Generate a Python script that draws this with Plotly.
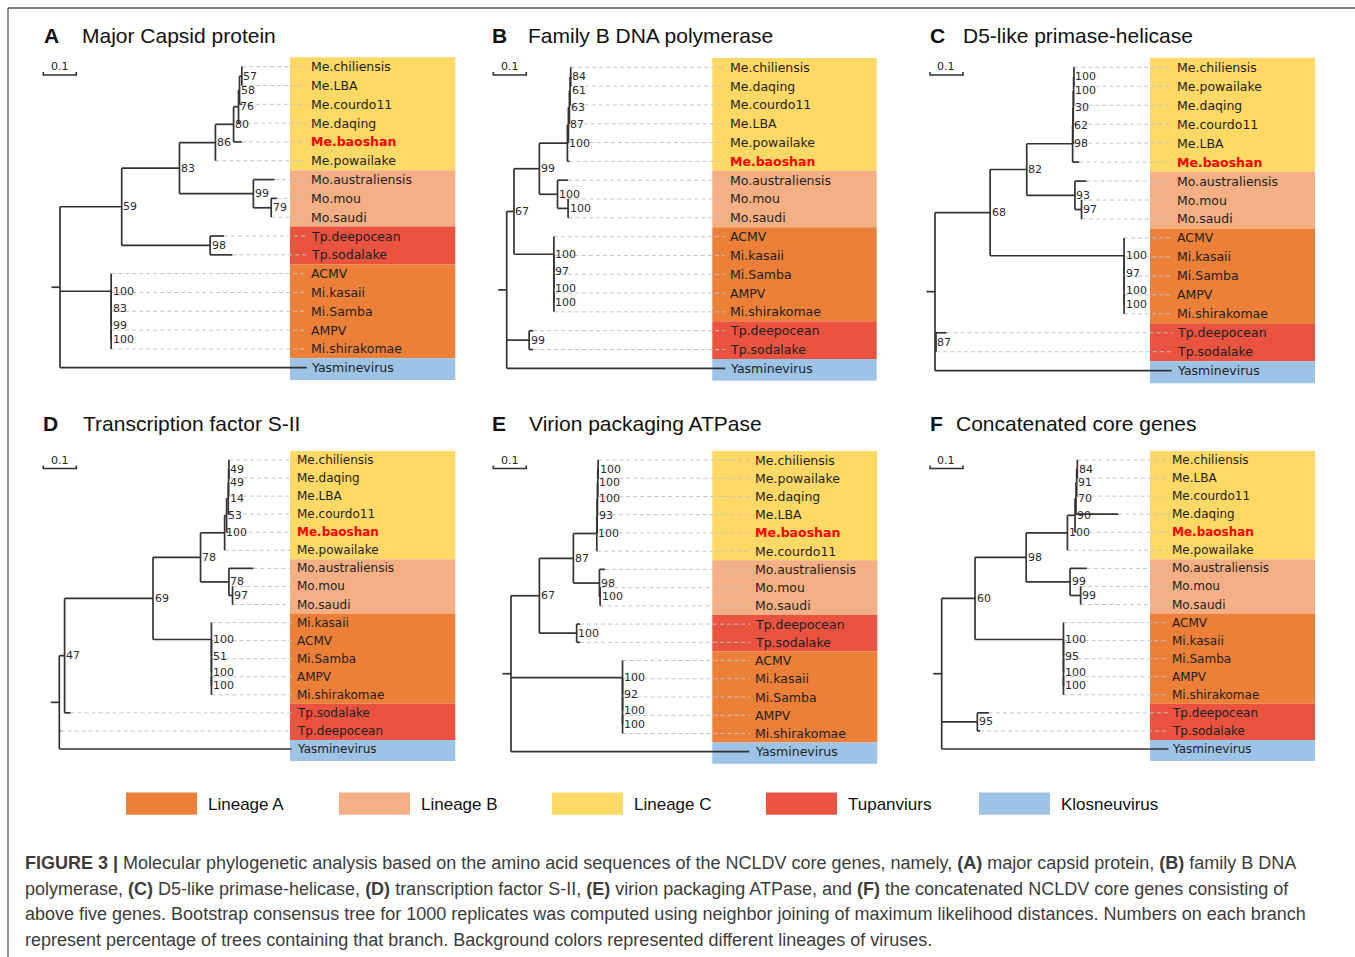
import plotly.graph_objects as go

FIG_W, FIG_H = 1355, 957
UNIT_PX = 330.0          # pixels per substitution/site (scale bar 0.1 = 33 px)

# ---------------------------------------------------------------- data
GROUP_NAMES = ["Lineage A", "Lineage B", "Lineage C", "Tupanviurs", "Klosneuvirus"]
GROUP_COLORS = ["#ED8039", "#F4B084", "#FFD966", "#E9533F", "#9DC3E6"]

LINEAGE_A = ["ACMV", "AMPV", "Mi.kasaii", "Mi.Samba", "Mi.shirakomae"]
LINEAGE_B = ["Mo.australiensis", "Mo.mou", "Mo.saudi"]
LINEAGE_C = ["Me.chiliensis", "Me.LBA", "Me.courdo11", "Me.daqing", "Me.baoshan", "Me.powailake"]
TUPANVIRUS = ["Tp.deepocean", "Tp.sodalake"]
KLOSNEUVIRUS = ["Yasminevirus"]
HIGHLIGHT = "Me.baoshan"

PANEL_KEYS = ["A", "B", "C", "D", "E", "F"]
PANEL_TITLES = ["Major Capsid protein", "Family B DNA polymerase", "D5-like primase-helicase",
                "Transcription factor S-II", "Virion packaging ATPase", "Concatenated core genes"]
SCALE_BAR = 0.1

# Newick trees: bootstrap support as internal labels, branch lengths
TREE_A = ("((((((((Me.chiliensis:0.001,Me.LBA:0.001)57:0.007,Me.courdo11:0.007)58:0.003,"
          "Me.daqing:0.005)76:0.015,Me.baoshan:0.025)80:0.055,Me.powailake:0)86:0.109,"
          "(Mo.australiensis:0.064,(Mo.mou:0.017,Mo.saudi:0)79:0.054)99:0.224)83:0.175,"
          "(Tp.deepocean:0.042,Tp.sodalake:0.067)98:0.268)59:0.187,"
          "(ACMV:0,(Mi.kasaii:0,(Mi.Samba:0,(AMPV:0,Mi.shirakomae:0)100:0)99:0)83:0)100:0.155,"
          "Yasminevirus:0.748);")
TREE_B = ("((((((((Me.chiliensis:0.001,Me.daqing:0.001)84:0.002,Me.courdo11:0.002)61:0.002,"
          "Me.LBA:0.001)63:0.003,Me.powailake:0.001)87:0.003,Me.baoshan:0.006)100:0.085,"
          "(Mo.australiensis:0.032,(Mo.mou:0.001,Mo.saudi:0.001)100:0.032)100:0.055)99:0.077,"
          "(ACMV:0,(Mi.kasaii:0,(Mi.Samba:0,(AMPV:0,Mi.shirakomae:0)100:0)100:0)97:0)100:0.121)67:0.022,"
          "(Tp.deepocean:0.012,Tp.sodalake:0.012)99:0.068,Yasminevirus:0.662);")
TREE_C = ("((((((((Me.chiliensis:0.001,Me.powailake:0.001)100:0.001,Me.daqing:0.002)100:0.001,"
          "Me.courdo11:0.003)30:0.001,Me.LBA:0.004)62:0.001,Me.baoshan:0.020)98:0.139,"
          "(Mo.australiensis:0.035,(Mo.mou:0.001,Mo.saudi:0.001)97:0.020)93:0.146)82:0.111,"
          "(ACMV:0,(Mi.kasaii:0,(Mi.Samba:0,(AMPV:0,Mi.shirakomae:0)100:0)100:0)97:0)100:0.406)68:0.167,"
          "(Tp.deepocean:0.032,Tp.sodalake:0)87:0.003,Yasminevirus:0.717);")
TREE_D = ("(((((((((Me.chiliensis:0.001,Me.daqing:0.001)49:0.001,Me.LBA:0.001)49:0.001,"
          "Me.courdo11:0.002)14:0.005,Me.baoshan:0.004)53:0.006,Me.powailake:0)100:0.073,"
          "(Mo.australiensis:0.074,(Mo.mou:0.001,Mo.saudi:0.002)97:0.011)78:0.086)78:0.144,"
          "(Mi.kasaii:0,(ACMV:0,(Mi.Samba:0,(AMPV:0,Mi.shirakomae:0)100:0)100:0)51:0)100:0.177)69:0.268,"
          "Tp.sodalake:0.018)47:0.016,Tp.deepocean:0.004,Yasminevirus:0.704);")
TREE_E = ("((((((((Me.chiliensis:0.001,Me.powailake:0.001)100:0.001,Me.daqing:0.001)100:0.001,"
          "Me.LBA:0.001)100:0.001,Me.baoshan:0.002)93:0.001,Me.courdo11:0.001)100:0.071,"
          "(Mo.australiensis:0.017,(Mo.mou:0.001,Mo.saudi:0.001)100:0.002)98:0.079)87:0.103,"
          "(Tp.deepocean:0.010,Tp.sodalake:0.010)100:0.113)67:0.086,"
          "(ACMV:0,(Mi.kasaii:0,(Mi.Samba:0,(AMPV:0,Mi.shirakomae:0)100:0)100:0)92:0)100:0.338,"
          "Yasminevirus:0.722);")
TREE_F = ("((((((((Me.chiliensis:0.001,Me.LBA:0.001)84:0.002,Me.courdo11:0.002)91:0.002,"
          "Me.daqing:0.128)70:0.003,Me.baoshan:0.002)90:0.023,Me.powailake:0)100:0.125,"
          "(Mo.australiensis:0.051,(Mo.mou:0.001,Mo.saudi:0.001)99:0.032)99:0.133)98:0.155,"
          "(ACMV:0,(Mi.kasaii:0,(Mi.Samba:0,(AMPV:0,Mi.shirakomae:0)100:0)100:0)95:0)100:0.268)60:0.101,"
          "(Tp.deepocean:0.035,Tp.sodalake:0.008)95:0.108,Yasminevirus:0.687);")
TREES = [TREE_A, TREE_B, TREE_C, TREE_D, TREE_E, TREE_F]

CAPTION_LINES = [
    "<b>FIGURE 3 |</b> Molecular phylogenetic analysis based on the amino acid sequences of the NCLDV core genes, namely, <b>(A)</b> major capsid protein, <b>(B)</b> family B DNA",
    "polymerase, <b>(C)</b> D5-like primase-helicase, <b>(D)</b> transcription factor S-II, <b>(E)</b> virion packaging ATPase, and <b>(F)</b> the concatenated NCLDV core genes consisting of",
    "above five genes. Bootstrap consensus tree for 1000 replicates was computed using neighbor joining of maximum likelihood distances. Numbers on each branch",
    "represent percentage of trees containing that branch. Background colors represented different lineages of viruses.",
]

# ---------------------------------------------------------------- layout / style (pixels)
PANEL_LAYOUT = [
    dict(L=28, R=462, T=15, B=390, root=60.0, row0=66.7, row_last=367.7, box=(290.0, 455.3),
         dash_end=306.7, label_x=311.0, sb_x=43.3, sb_y=75.0, letter_x=44, title_x=82, title_y=35, fs=12.5),
    dict(L=470, R=882, T=15, B=390, root=506.7, row0=67.3, row_last=368.3, box=(712.3, 876.7),
         dash_end=725.0, label_x=730.0, sb_x=493.3, sb_y=75.0, letter_x=492, title_x=528, title_y=35, fs=12.5),
    dict(L=915, R=1320, T=15, B=390, root=935.0, row0=67.3, row_last=370.7, box=(1150.0, 1315.0),
         dash_end=1173.0, label_x=1176.7, sb_x=930.0, sb_y=75.0, letter_x=930, title_x=963, title_y=36, fs=12.5),
    dict(L=28, R=462, T=400, B=775, root=59.3, row0=460.0, row_last=749.0, box=(290.0, 455.3),
         dash_end=291.7, label_x=296.7, sb_x=43.3, sb_y=468.5, letter_x=43, title_x=83, title_y=423, fs=12),
    dict(L=470, R=882, T=400, B=775, root=511.0, row0=460.0, row_last=751.7, box=(712.3, 877.3),
         dash_end=750.0, label_x=755.0, sb_x=493.3, sb_y=468.5, letter_x=492, title_x=529, title_y=423, fs=12.5),
    dict(L=915, R=1320, T=400, B=775, root=941.7, row0=460.0, row_last=749.0, box=(1150.0, 1315.0),
         dash_end=1168.3, label_x=1171.7, sb_x=930.0, sb_y=468.5, letter_x=930, title_x=956, title_y=423, fs=12),
]
ROOT_STUB_PX = 8.5
BOX_BOTTOM_PAD_PX = 3.0
TREE_COLOR = "#333333"
DASH_COLOR = "#C4C4C4"
TREE_FONT = "DejaVu Sans"
SANS = "Liberation Sans, Arial, Helvetica, sans-serif"
NOPAD = dict(borderpad=0, borderwidth=0, showarrow=False)

LEAF_GROUP = {}
for gi, members in enumerate([LINEAGE_A, LINEAGE_B, LINEAGE_C, TUPANVIRUS, KLOSNEUVIRUS]):
    for m in members:
        LEAF_GROUP[m] = gi


def parse_newick(text):
    s = text.strip().rstrip(";")
    pos = 0

    def node():
        nonlocal pos
        nd = {"children": [], "name": "", "support": "", "length": 0.0}
        if s[pos] == "(":
            pos += 1
            while True:
                nd["children"].append(node())
                if s[pos] == ",":
                    pos += 1
                    continue
                if s[pos] == ")":
                    pos += 1
                    break
        start = pos
        while pos < len(s) and s[pos] not in ",():":
            pos += 1
        lab = s[start:pos]
        if nd["children"]:
            nd["support"] = lab
        else:
            nd["name"] = lab
        if pos < len(s) and s[pos] == ":":
            pos += 1
            start = pos
            while pos < len(s) and s[pos] not in ",()":
                pos += 1
            nd["length"] = float(s[start:pos])
        return nd

    return node()


def place(root):
    leaves = []

    def rec(nd, x):
        nd["x"] = x
        if not nd["children"]:
            nd["y"] = float(len(leaves))
            leaves.append(nd)
        else:
            for c in nd["children"]:
                rec(c, x + c["length"])
            nd["y"] = (nd["children"][0]["y"] + nd["children"][-1]["y"]) / 2.0
    rec(root, 0.0)
    return leaves


fig = go.Figure()
shapes, annotations, axes = [], [], {}

for i, (key, title, newick, P) in enumerate(zip(PANEL_KEYS, PANEL_TITLES, TREES, PANEL_LAYOUT)):
    tree = parse_newick(newick)
    leaves = place(tree)
    n = len(leaves)
    sp = (P["row_last"] - P["row0"]) / (n - 1)

    def xd(px, P=P):
        return (px - P["root"]) / UNIT_PX

    def yd(py, P=P, sp=sp):
        return (py - P["row0"]) / sp

    suf = "" if i == 0 else str(i + 1)
    xref, yref = "x" + suf, "y" + suf
    axes["xaxis" + suf] = dict(domain=[P["L"] / FIG_W, P["R"] / FIG_W], range=[xd(P["L"]), xd(P["R"])],
                               visible=False, fixedrange=True, anchor=yref)
    axes["yaxis" + suf] = dict(domain=[1 - P["B"] / FIG_H, 1 - P["T"] / FIG_H], range=[yd(P["B"]), yd(P["T"])],
                               visible=False, fixedrange=True, anchor=xref)

    # background colour bands by lineage
    runs = []
    for r, lf in enumerate(leaves):
        g = LEAF_GROUP[lf["name"]]
        if runs and runs[-1][0] == g:
            runs[-1][2] = r
        else:
            runs.append([g, r, r])
    for g, r0, r1 in runs:
        y1 = r1 + 0.5 + (BOX_BOTTOM_PAD_PX / sp if r1 == n - 1 else 0)
        shapes.append(dict(type="rect", xref=xref, yref=yref, x0=xd(P["box"][0]), x1=xd(P["box"][1]),
                           y0=r0 - 0.5, y1=y1, fillcolor=GROUP_COLORS[g], line=dict(width=0), layer="below"))

    # tree branches
    xs, ys = [], []

    def seg(x0, y0, x1, y1):
        xs.extend([x0, x1, None])
        ys.extend([y0, y1, None])

    seg(-ROOT_STUB_PX / UNIT_PX, tree["y"], 0.0, tree["y"])
    internal = []

    def walk(nd):
        if nd["children"]:
            internal.append(nd)
            cy = [c["y"] for c in nd["children"]]
            seg(nd["x"], min(cy), nd["x"], max(cy))
            for c in nd["children"]:
                seg(nd["x"], c["y"], c["x"], c["y"])
                walk(c)
    walk(tree)

    # dashed leaders from tips to labels
    dx, dy = [], []
    xend = xd(P["dash_end"])
    for lf in leaves:
        if lf["x"] < xend - 0.002:
            dx.extend([lf["x"], xend, None])
            dy.extend([lf["y"], lf["y"], None])
    fig.add_trace(go.Scatter(x=dx, y=dy, mode="lines", xaxis=xref, yaxis=yref, hoverinfo="skip",
                             showlegend=False, line=dict(color=DASH_COLOR, width=1, dash="4px,3px")))
    fig.add_trace(go.Scatter(x=xs, y=ys, mode="lines", xaxis=xref, yaxis=yref, hoverinfo="skip",
                             showlegend=False, line=dict(color=TREE_COLOR, width=1.7)))

    # scale bar
    sbx0, sby = xd(P["sb_x"]), yd(P["sb_y"])
    tick = 3.0 / sp
    fig.add_trace(go.Scatter(x=[sbx0, sbx0, sbx0 + SCALE_BAR, sbx0 + SCALE_BAR],
                             y=[sby - tick, sby, sby, sby - tick], mode="lines", xaxis=xref, yaxis=yref,
                             hoverinfo="skip", showlegend=False, line=dict(color=TREE_COLOR, width=1.6)))
    annotations.append(dict(x=sbx0 + SCALE_BAR / 2, y=yd(P["sb_y"] - 8.5), xref=xref, yref=yref,
                            text=str(SCALE_BAR), xanchor="center", yanchor="middle",
                            font=dict(family=TREE_FONT, size=11, color="#222222"), **NOPAD))

    # bootstrap values
    for nd in internal:
        if nd is tree or not nd["support"]:
            continue
        annotations.append(dict(x=nd["x"], y=nd["y"], xref=xref, yref=yref, text=nd["support"],
                                xanchor="left", yanchor="middle", xshift=1.5,
                                font=dict(family=TREE_FONT, size=11, color="#2a2a2a"), **NOPAD))

    # leaf labels
    for lf in leaves:
        name = lf["name"]
        hl = name == HIGHLIGHT
        annotations.append(dict(x=xd(P["label_x"]), y=lf["y"], xref=xref, yref=yref,
                                text="<b>%s</b>" % name if hl else name,
                                xanchor="left", yanchor="middle",
                                font=dict(family=TREE_FONT, size=P["fs"],
                                          color="#FF0000" if hl else "#1E1E1E"), **NOPAD))

    # panel title
    annotations.append(dict(x=P["letter_x"] / FIG_W, y=1 - P["title_y"] / FIG_H, xref="paper", yref="paper",
                            text="<b>%s</b>" % key, xanchor="left", yanchor="middle",
                            font=dict(family=SANS, size=21, color="#111111"), **NOPAD))
    annotations.append(dict(x=P["title_x"] / FIG_W, y=1 - P["title_y"] / FIG_H, xref="paper", yref="paper",
                            text=title, xanchor="left", yanchor="middle",
                            font=dict(family=SANS, size=21, color="#111111"), **NOPAD))

# ---------------------------------------------------------------- legend
LEG_X = [126, 339, 552, 766, 979]
LEG_W, LEG_Y0, LEG_Y1 = 71, 792.5, 814.7
for gx, gname, gcol in zip(LEG_X, GROUP_NAMES, GROUP_COLORS):
    shapes.append(dict(type="rect", xref="paper", yref="paper", x0=gx / FIG_W, x1=(gx + LEG_W) / FIG_W,
                       y0=1 - LEG_Y1 / FIG_H, y1=1 - LEG_Y0 / FIG_H, fillcolor=gcol, line=dict(width=0)))
    annotations.append(dict(x=(gx + LEG_W + 11) / FIG_W, y=1 - 804 / FIG_H, xref="paper", yref="paper",
                            text=gname, xanchor="left", yanchor="middle",
                            font=dict(family=SANS, size=17, color="#111111"), **NOPAD))

# ---------------------------------------------------------------- caption
CAP_Y = [863, 888.5, 914, 939.5]
for line, cy in zip(CAPTION_LINES, CAP_Y):
    annotations.append(dict(x=25 / FIG_W, y=1 - cy / FIG_H, xref="paper", yref="paper", text=line,
                            xanchor="left", yanchor="middle",
                            font=dict(family=SANS, size=18, color="#3C3C3C"), **NOPAD))

# ---------------------------------------------------------------- frame
shapes.append(dict(type="line", xref="paper", yref="paper", x0=8 / FIG_W, x1=1.0, y0=1 - 8 / FIG_H,
                   y1=1 - 8 / FIG_H, line=dict(color="#555555", width=1.3)))
shapes.append(dict(type="line", xref="paper", yref="paper", x0=8 / FIG_W, x1=8 / FIG_W, y0=0.0,
                   y1=1 - 8 / FIG_H, line=dict(color="#555555", width=1.3)))

fig.update_layout(width=FIG_W, height=FIG_H, margin=dict(l=0, r=0, t=0, b=0, pad=0),
                  paper_bgcolor="white", plot_bgcolor="rgba(0,0,0,0)", showlegend=False,
                  shapes=shapes, annotations=annotations, **axes)
fig.write_html("out.html", config={"displayModeBar": False})
